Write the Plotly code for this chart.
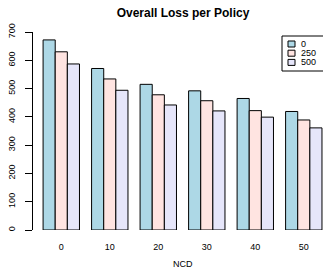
import plotly.graph_objects as go

ncd = ["0", "10", "20", "30", "40", "50"]
series_names = ["0", "250", "500"]
loss_0 = [672, 571, 515, 492, 465, 419]
loss_250 = [630, 534, 478, 457, 422, 389]
loss_500 = [587, 494, 442, 421, 399, 361]
colors = ["#ADD8E6", "#FFE4E1", "#E6E6FA"]
y_ticks = [0, 100, 200, 300, 400, 500, 600, 700]

W, H = 323, 268
L, R, T, B = 33, 0, 32, 38
PW, PH = W - L - R, H - T - B

def px(x):
    return (x - L) / PW

def py(y):
    return (H - B - y) / PH

fig = go.Figure()
for name, vals, col in zip(series_names, [loss_0, loss_250, loss_500], colors):
    fig.add_trace(go.Bar(x=ncd, y=vals, name=name, marker=dict(color=col, line=dict(color="black", width=1)),
                         showlegend=False))

font_fam = "Liberation Sans, Arial, sans-serif"

fig.update_layout(
    width=W, height=H,
    margin=dict(l=L, r=R, t=T, b=B, autoexpand=False),
    paper_bgcolor="white", plot_bgcolor="white",
    barmode="group", bargap=0.25, bargroupgap=0,
    font=dict(family=font_fam, size=9, color="black"),
    title=dict(text="Overall Loss per Policy", x=183 / W, xref="container", xanchor="center",
               y=1 - 12.5 / H, yref="container", yanchor="middle",
               font=dict(family=font_fam, size=12, weight="bold", color="black")),
    xaxis=dict(type="category", range=[-0.583, 5.396], showline=False, ticks="", showgrid=False,
               zeroline=False, tickfont=dict(size=9), ticklabelstandoff=10),
    yaxis=dict(range=[0, 700], tickvals=y_ticks, ticks="outside", ticklen=7, tickwidth=1, tickcolor="black",
               showline=True, linecolor="black", linewidth=1, showgrid=False, zeroline=False,
               tickangle=-90, tickfont=dict(size=9), ticklabelstandoff=6),
)

fig.add_annotation(text="NCD", x=px(183), y=py(264), xref="paper", yref="paper",
                   xanchor="center", yanchor="middle", showarrow=False, font=dict(size=9))

# legend box (manual, like R's legend())
fig.add_shape(type="rect", xref="paper", yref="paper", x0=px(282), x1=px(330), y0=py(71), y1=py(36),
              line=dict(color="black", width=1), fillcolor="white")
for i, (name, col) in enumerate(zip(series_names, colors)):
    yc = 44 + 9.2 * i
    fig.add_shape(type="rect", xref="paper", yref="paper", x0=px(288), x1=px(295), y0=py(yc + 3), y1=py(yc - 3),
                  line=dict(color="black", width=1), fillcolor=col)
    fig.add_annotation(text=name, x=px(299), y=py(yc), xref="paper", yref="paper", xanchor="left",
                       yanchor="middle", showarrow=False, font=dict(size=9))

fig.write_html("out.html", config={"displayModeBar": False},
               post_script="document.body.style.margin='0';document.body.style.overflow='hidden';")
